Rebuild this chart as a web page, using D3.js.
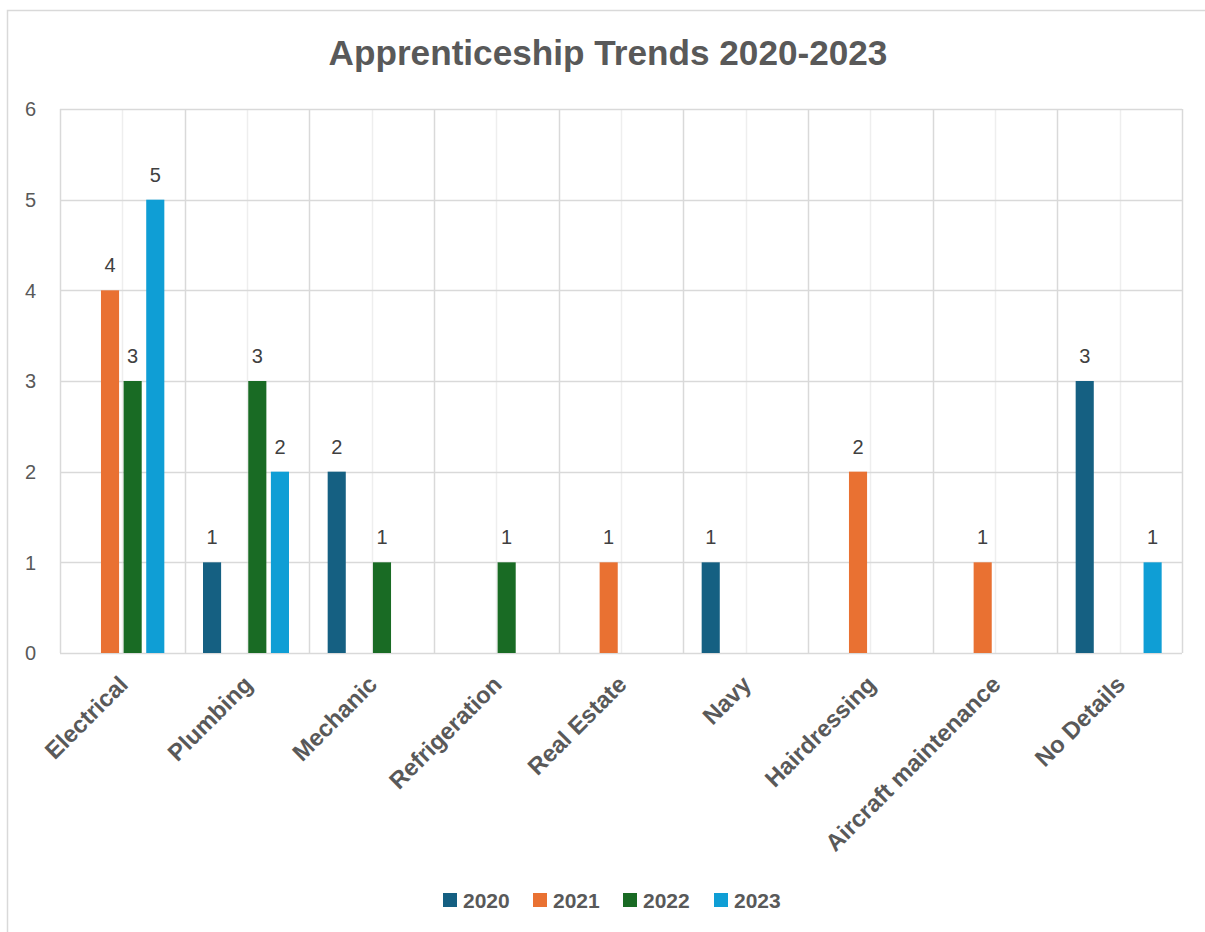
<!DOCTYPE html>
<html><head><meta charset="utf-8">
<script src="https://cdn.jsdelivr.net/npm/d3@7"></script>
<style>body{margin:0;background:#fff}svg{display:block}</style>
</head><body>
<script>
const categories = ["Electrical","Plumbing","Mechanic","Refrigeration","Real Estate","Navy","Hairdressing","Aircraft maintenance","No Details"];
const seriesNames = ["2020","2021","2022","2023"];
const values2020 = [0,1,2,0,0,1,0,0,3];
const values2021 = [4,0,0,0,1,0,2,1,0];
const values2022 = [3,3,1,1,0,0,0,0,0];
const values2023 = [5,2,0,0,0,0,0,0,1];
const yTicks = [0,1,2,3,4,5,6];
const colors = ["#156082","#E97132","#196B24","#0F9ED5"];
const seriesValues = [values2020, values2021, values2022, values2023];

const W = 1205, H = 932;
const svg = d3.select("body").append("svg").attr("width", W).attr("height", H);
const font = "'Liberation Sans', Arial, sans-serif";

svg.append("rect").attr("x",7.5).attr("y",10.5).attr("width",W+20).attr("height",H+20)
  .attr("fill","#fff").attr("stroke","#d9d9d9").attr("stroke-width",1.5);

const L = 60, R = 1182, T = 109, B = 653;
const x = d3.scaleBand().domain(categories).range([L, R]).padding(0);
const y = d3.scaleLinear().domain([0, 6]).range([B, T]);
const groupW = 86;
const xs = d3.scaleBand().domain(seriesNames).range([0, groupW]).paddingInner(0.2).paddingOuter(0);

// minor vertical grid (category centers)
svg.append("g").selectAll("line").data(categories).join("line")
  .attr("x1", d => Math.round(x(d) + x.bandwidth()/2) + 0.5)
  .attr("x2", d => Math.round(x(d) + x.bandwidth()/2) + 0.5)
  .attr("y1", T).attr("y2", B).attr("stroke", "#eeeeee").attr("stroke-width", 1.5);
// major vertical grid (boundaries)
const bounds = categories.map(c => x(c)).concat([R]);
svg.append("g").selectAll("line").data(bounds).join("line")
  .attr("x1", d => Math.round(d) + 0.5).attr("x2", d => Math.round(d) + 0.5)
  .attr("y1", T).attr("y2", B).attr("stroke", "#d9d9d9").attr("stroke-width", 1.5);
// horizontal grid
svg.append("g").selectAll("line").data(yTicks).join("line")
  .attr("x1", L).attr("x2", R)
  .attr("y1", d => Math.round(y(d)) + 0.5).attr("y2", d => Math.round(y(d)) + 0.5)
  .attr("stroke", "#d9d9d9").attr("stroke-width", 1.5);

// y tick labels
svg.append("g").selectAll("text").data(yTicks).join("text")
  .attr("x", 36).attr("y", d => y(d)).attr("dy", "0.36em")
  .attr("text-anchor", "end").attr("font-family", font).attr("font-size", 20)
  .attr("fill", "#595959").text(d => String(d));

// bars
const barsData = [];
seriesNames.forEach((s, si) => categories.forEach((c, ci) => {
  const v = seriesValues[si][ci];
  if (v > 0) barsData.push({s: s, si: si, c: c, v: v});
}));
const gx = c => x(c) + (x.bandwidth() - groupW) / 2 - 1;
svg.append("g").selectAll("rect").data(barsData).join("rect")
  .attr("x", d => gx(d.c) + xs(d.s))
  .attr("width", xs.bandwidth())
  .attr("y", d => y(d.v)).attr("height", d => y(0) - y(d.v))
  .attr("fill", d => colors[d.si]);
const labelG = svg.append("g");
barsData.forEach(d => {
  labelG.append("text")
    .attr("x", gx(d.c) + xs(d.s) + xs.bandwidth()/2)
    .attr("y", y(d.v) - 18)
    .attr("text-anchor", "middle").attr("font-family", font).attr("font-size", 20)
    .attr("fill", "#404040").text(String(d.v));
});

// x labels
const xl = svg.append("g").selectAll("text").data(categories).join("text")
  .attr("text-anchor", "end").attr("font-family", font).attr("font-size", 20)
  .attr("font-weight", "bold").attr("fill", "#595959").text(d => d);
let longest = 0;
xl.each(function(){ longest = Math.max(longest, this.getComputedTextLength()); });
const xfs = 20 * 236 / longest;
xl.attr("font-size", xfs)
  .attr("transform", d => `translate(${x(d) + x.bandwidth()/2 + 7},${B + 33}) rotate(-45)`);

// title
const title = svg.append("text").attr("x", 608).attr("y", 65).attr("text-anchor", "middle")
  .attr("font-family", font).attr("font-weight", "bold").attr("font-size", 30)
  .attr("fill", "#595959").text("Apprenticeship Trends 2020-2023");
const tw = title.node().getComputedTextLength();
title.attr("font-size", 30 * 559 / tw);

// legend
const legX = [443, 533, 623, 714];
const leg = svg.append("g").selectAll("g").data(seriesNames).join("g")
  .attr("transform", (d, i) => `translate(${legX[i]},893)`);
leg.append("rect").attr("width", 14).attr("height", 14).attr("fill", (d, i) => colors[i]);
leg.append("text").attr("x", 20).attr("y", 7).attr("dy", "0.36em")
  .attr("font-family", font).attr("font-weight", "bold").attr("font-size", 21)
  .attr("fill", "#595959").text(d => d);
</script>
</body></html>
